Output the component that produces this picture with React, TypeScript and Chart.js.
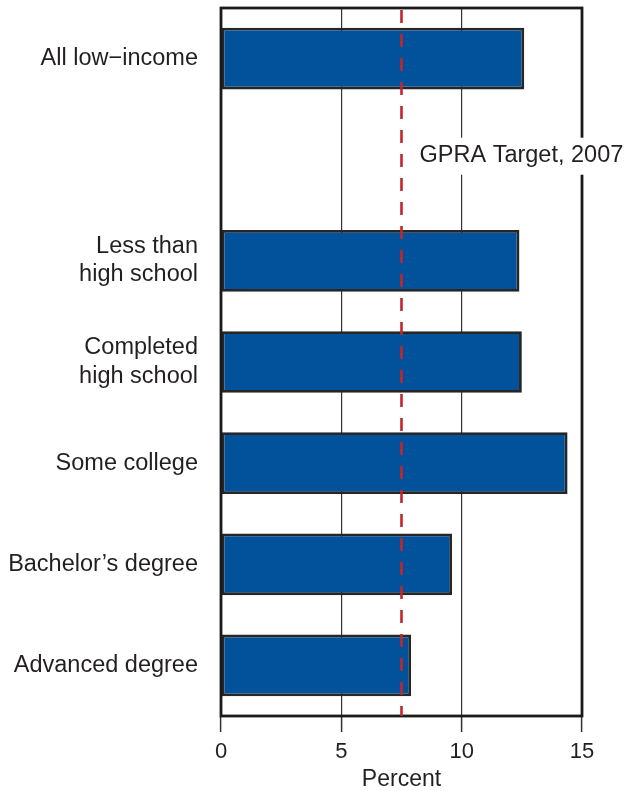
import React, { useEffect, useRef } from "react";
import { Chart, registerables } from "chart.js";

Chart.register(...registerables);

const categories: (string | string[])[] = [
  "All low\u2212income",
  "",
  ["Less than", "high school"],
  ["Completed", "high school"],
  "Some college",
  "Bachelor\u2019s degree",
  "Advanced degree",
];
const percentValues: (number | null)[] = [12.6, null, 12.4, 12.5, 14.4, 9.6, 7.9];
const targetValue = 7.5;
const targetLabel = "GPRA Target, 2007";
const targetLabelSlot = 1;
const xTicks = [0, 5, 10, 15];
const xTitle = "Percent";

const FONT = "'Liberation Sans', Arial, Helvetica, sans-serif";
const TEXT = "#231f20";

const overlayPlugin = {
  id: "overlay",
  afterDatasetsDraw(chart: any) {
    const { ctx, chartArea, scales } = chart;
    const { left, right, top, bottom } = chartArea;
    ctx.save();
    // frame
    ctx.strokeStyle = "#1a1a1a";
    ctx.lineWidth = 2.8;
    ctx.strokeRect(left, top, right - left, bottom - top);
    // target line
    const tx = scales.x.getPixelForValue(targetValue);
    ctx.strokeStyle = "#c1272d";
    ctx.lineWidth = 2.6;
    ctx.setLineDash([13, 11]);
    ctx.beginPath();
    ctx.moveTo(tx, top + 2);
    ctx.lineTo(tx, bottom);
    ctx.stroke();
    ctx.setLineDash([]);
    // label with white box
    const ly = scales.y.getPixelForValue(targetLabelSlot) - 4;
    ctx.font = `23.5px ${FONT}`;
    const w = ctx.measureText(targetLabel).width;
    const lx = tx + 18;
    ctx.fillStyle = "#ffffff";
    ctx.fillRect(lx - 6, ly - 18, w + 12, 37);
    ctx.fillStyle = TEXT;
    ctx.textAlign = "left";
    ctx.textBaseline = "middle";
    ctx.fillText(targetLabel, lx, ly);
    ctx.restore();
  },
};

export default function App() {
  const canvasRef = useRef<HTMLCanvasElement | null>(null);

  useEffect(() => {
    if (!canvasRef.current) return;
    const chart = new Chart(canvasRef.current, {
      type: "bar",
      data: {
        labels: categories,
        datasets: [
          {
            data: percentValues,
            backgroundColor: "#02529b",
            borderColor: "#262626",
            borderWidth: 2.8,
            borderSkipped: false,
            barPercentage: 0.61,
            categoryPercentage: 1,
          },
        ],
      },
      options: {
        indexAxis: "y",
        responsive: false,
        animation: false,
        layout: { padding: { top: 8, right: 59, bottom: 0, left: 0 } },
        plugins: {
          legend: { display: false },
          tooltip: { enabled: false },
        },
        scales: {
          x: {
            min: 0,
            max: 15,
            afterBuildTicks: (axis: any) => {
              axis.ticks = xTicks.map((v) => ({ value: v }));
            },
            afterFit: (axis: any) => {
              axis.height = 75;
              axis.paddingLeft = 0;
              axis.paddingRight = 0;
            },
            grid: {
              color: "#333333",
              lineWidth: 1.2,
              tickLength: 16,
              tickColor: "#333333",
              tickWidth: 1.5,
              drawOnChartArea: true,
            },
            border: { display: false },
            ticks: {
              padding: 7,
              color: TEXT,
              font: { family: FONT, size: 22 },
            },
            title: {
              display: true,
              text: xTitle,
              color: TEXT,
              font: { family: FONT, size: 23, lineHeight: 1 },
              padding: { top: 0, bottom: 0 },
            },
          },
          y: {
            afterFit: (axis: any) => {
              axis.width = 221;
              axis.paddingTop = 0;
              axis.paddingBottom = 0;
            },
            grid: { display: false },
            border: { display: false },
            ticks: {
              padding: 15,
              color: TEXT,
              font: { family: FONT, size: 23.5, lineHeight: 1.2 },
            },
          },
        },
      },
      plugins: [overlayPlugin],
    } as any);
    return () => chart.destroy();
  }, []);

  return (
    <div style={{ position: "absolute", left: 0, top: 0, width: 641, height: 791, background: "#fff" }}>
      <canvas ref={canvasRef} width={641} height={791} style={{ display: "block" }} />
    </div>
  );
}
